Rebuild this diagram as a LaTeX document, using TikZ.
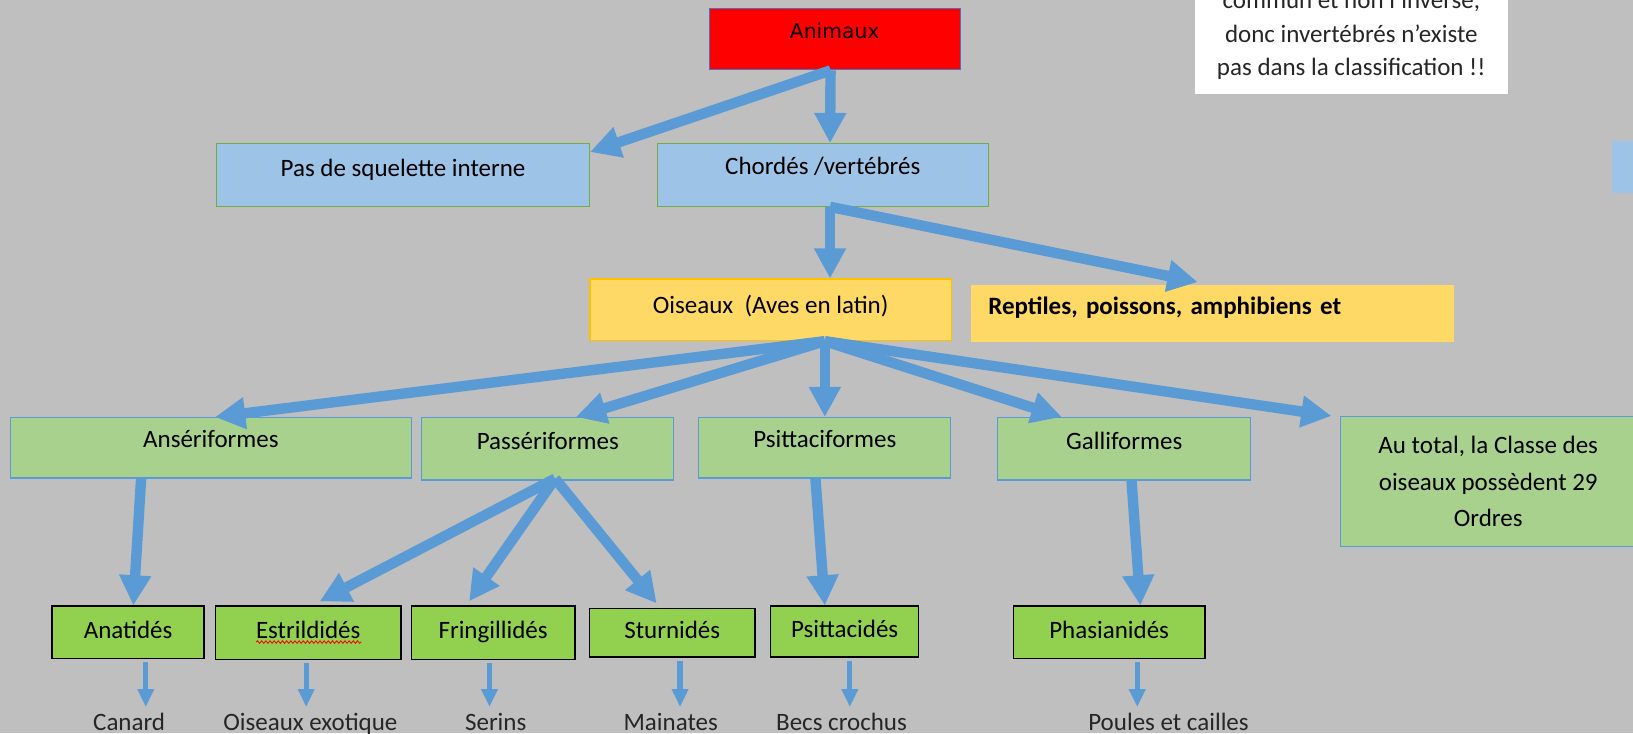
\documentclass[tikz,border=0pt]{standalone}
\usepackage{fontspec}
\setmainfont{Carlito}
\newfontfamily\gothicfont{DejaVu Sans}
\usetikzlibrary{arrows.meta,calc,decorations.pathmorphing}
\definecolor{fondgris}{RGB}{191,191,191}
\definecolor{bleufleche}{RGB}{91,155,213}
\definecolor{bordrouge}{RGB}{68,114,196}
\definecolor{bleuclair}{RGB}{157,195,230}
\definecolor{vertbord}{RGB}{112,173,71}
\definecolor{jaune}{RGB}{255,217,102}
\definecolor{orange}{RGB}{255,192,0}
\definecolor{vertordre}{RGB}{169,209,142}
\definecolor{vertfam}{RGB}{146,208,80}
\definecolor{texte}{RGB}{38,38,38}
\begin{document}
\begin{tikzpicture}[x=1pt,y=-1pt,
    box/.style={rectangle,inner sep=0pt,font=\fontsize{24}{29}\selectfont,text height=17pt,text depth=5pt},
    embr/.style={box,fill=bleuclair,draw=vertbord,line width=1.2pt},
    classe/.style={box,fill=jaune},
    ordre/.style={box,fill=vertordre,draw=bleufleche,line width=1.2pt},
    famille/.style={box,fill=vertfam,draw=black,line width=1.3pt},
    feuille/.style={box,text=texte},
    fleche/.style={draw=bleufleche,line width=10pt,-{Triangle[length=29pt,width=29pt]}},
    petite/.style={draw=bleufleche,line width=5pt,-{Triangle[length=17pt,width=15pt]}}]
  \useasboundingbox (0,0) rectangle (1568,704);
  \clip (0,0) rectangle (1568,704);
  \fill[fondgris] (0,0) rectangle (1568,704);
  \fill[bleuclair] (1548,135) rectangle (1568,185);

  \node[box,fill=red,draw=bordrouge,line width=1.2pt,minimum width=241pt,minimum height=59pt,
    font=\gothicfont\fontsize{19.5}{24}\selectfont,text depth=18pt] (animaux) at (801.5,37.5) {Animaux};
  \node[fill=white,inner sep=0pt,minimum width=301pt,minimum height=112pt,align=center,
    font=\fontsize{24}{32}\selectfont,text=texte] (note) at (1297.5,34)
    {commun et non l’inverse,\\donc invertébrés n’existe\\pas dans la classification !!};

  \node[embr,minimum width=358pt,minimum height=60pt,text depth=15pt] (pas) at (387,168) {Pas de squelette interne};
  \node[embr,minimum width=318pt,minimum height=60pt,text depth=17pt] (chordes) at (790,168) {Chordés /vertébrés};

  \node[classe,draw=orange,line width=1.2pt,minimum width=347pt,minimum height=59pt,text depth=10pt] (oiseaux) at (740,297.5) {Oiseaux\ \ (Aves en latin)};
  \node[classe,minimum width=464pt,minimum height=54pt,text width=430pt,align=left,text depth=15pt,
    font=\bfseries\fontsize{24}{29}\selectfont] (reptiles) at (1164,301) {Reptiles, poissons, amphibiens et};

  \node[ordre,minimum width=385pt,minimum height=58pt,text depth=17pt] (anser) at (202.5,430) {Ansériformes};
  \node[ordre,minimum width=242pt,minimum height=60pt,text depth=15pt] (pass) at (526,431) {Passériformes};
  \node[ordre,minimum width=242pt,minimum height=58pt,text depth=17pt] (psitta) at (792,430) {Psittaciformes};
  \node[ordre,minimum width=243pt,minimum height=60pt,text depth=15pt] (galli) at (1079.5,431) {Galliformes};
  \node[fill=vertordre,draw=bleufleche,line width=1.2pt,inner sep=0pt,minimum width=284pt,minimum height=125pt,
    align=center,font=\fontsize{24}{35}\selectfont] (total) at (1429,462.5)
    {Au total, la Classe des\\oiseaux possèdent 29\\Ordres};

  \node[famille,minimum width=146pt,minimum height=50pt] (anat) at (123,607) {Anatidés};
  \node[famille,minimum width=178pt,minimum height=51pt] (estril) at (296,607.5) {Estrildidés};
  \node[famille,minimum width=157pt,minimum height=51pt] (fring) at (473.5,607.5) {Fringillidés};
  \node[famille,minimum width=159pt,minimum height=47pt] (sturn) at (645.5,607.5) {Sturnidés};
  \node[famille,minimum width=142pt,minimum height=49pt] (psittac) at (811,606.5) {Psittacidés};
  \node[famille,minimum width=184pt,minimum height=50pt] (phasi) at (1065,607) {Phasianidés};
  \draw[red,line width=0.8pt,decorate,decoration={snake,amplitude=1.2pt,segment length=4pt}]
    ($(estril.center)+(-50,9)$) -- ($(estril.center)+(51,9)$);

  \node[feuille] (canard) at (124,695) {Canard};
  \node[feuille] (exot) at (298,695) {Oiseaux exotique};
  \node[feuille] (serins) at (476,695) {Serins};
  \node[feuille] (mainates) at (644,695) {Mainates};
  \node[feuille] (becs) at (808,695) {Becs crochus};
  \node[feuille] (poules) at (1122,695) {Poules et cailles};

  \begin{scope}[fleche]
    \draw ($(animaux.south)+(-4,0)$) to (pas.7);
    \draw ($(animaux.south)+(-4,0)$) to ($(chordes.north)+(7,0)$);
    \draw ($(chordes.south)+(7,0)$) to ($(oiseaux.north)+(57,0)$);
    \draw ($(chordes.south)+(7,0)$) to ($(reptiles.north)+(-14,-3)$);
    \draw ($(oiseaux.south)+(52,0)$) to ($(anser.north)+(4,0)$);
    \draw ($(oiseaux.south)+(52,0)$) to ($(pass.north)+(27,0)$);
    \draw ($(oiseaux.south)+(52,0)$) to (psitta.north);
    \draw ($(oiseaux.south)+(52,0)$) to ($(galli.north)+(-60,0)$);
    \draw ($(oiseaux.south)+(52,0)$) to ($(total.north west)+(-8,0)$);
    \draw ($(anser.south)+(-67,0)$) to ($(anat.north)+(5,0)$);
    \draw ($(pass.south)+(7,-2)$) to ($(estril.north)+(11,-4)$);
    \draw ($(pass.south)+(7,-2)$) to ($(fring.north)+(-23,-4)$);
    \draw ($(pass.south)+(7,-2)$) to ($(sturn.north)+(-15,-4)$);
    \draw ($(psitta.south)+(-9,0)$) to ($(psittac.north)+(-19,0)$);
    \draw ($(galli.south)+(7,0)$) to ($(phasi.north)+(30,0)$);
  \end{scope}
  \begin{scope}[petite]
    \draw ($(anat.south)+(17,3)$) to ($(canard.north)+(16,-5)$);
    \draw ($(estril.south)+(-2,3)$) to ($(exot.north)+(-4,-5)$);
    \draw ($(fring.south)+(-3.5,3)$) to ($(serins.north)+(-6,-5)$);
    \draw ($(sturn.south)+(7.5,3)$) to ($(mainates.north)+(9,-5)$);
    \draw ($(psittac.south)+(5,3)$) to ($(becs.north)+(8,-5)$);
    \draw ($(phasi.south)+(27,3)$) to ($(poules.north)+(-30,-5)$);
  \end{scope}
\end{tikzpicture}
\end{document}
